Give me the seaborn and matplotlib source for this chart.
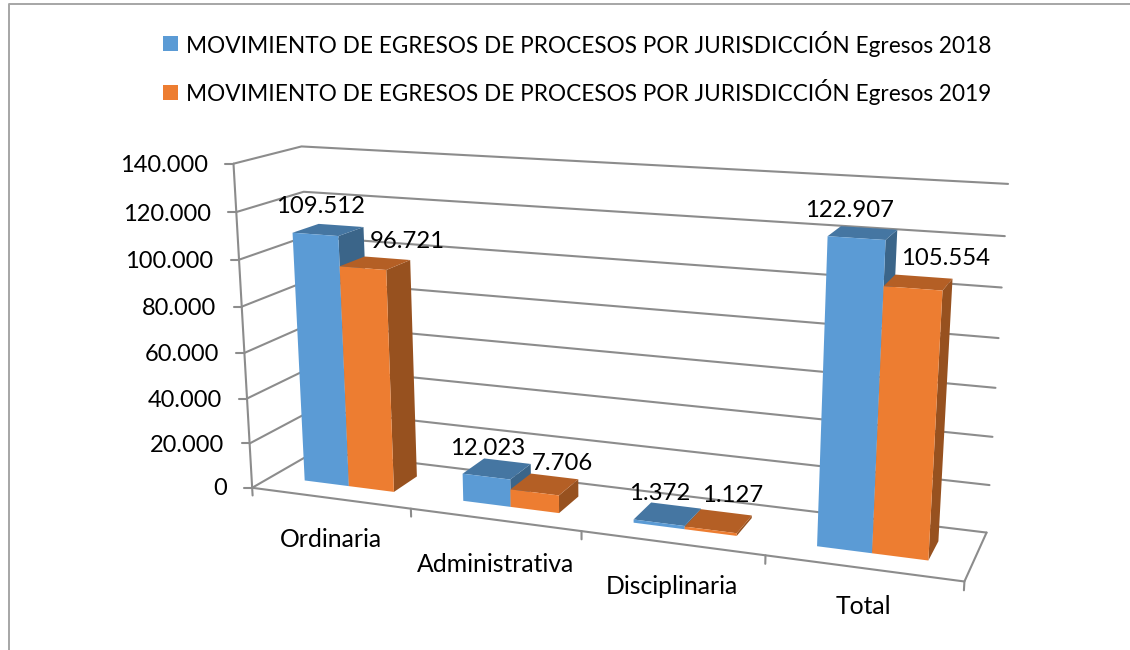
import numpy as np
import pandas as pd
import matplotlib
matplotlib.use("Agg")
import matplotlib.pyplot as plt
from matplotlib.patches import Rectangle
import seaborn as sns

categories = ["Ordinaria", "Administrativa", "Disciplinaria", "Total"]
egresos_2018 = [109512, 12023, 1372, 122907]
egresos_2019 = [96721, 7706, 1127, 105554]
series_names = ["MOVIMIENTO DE EGRESOS DE PROCESOS POR JURISDICCIÓN Egresos 2018",
                "MOVIMIENTO DE EGRESOS DE PROCESOS POR JURISDICCIÓN Egresos 2019"]
value_ticks = [0, 20000, 40000, 60000, 80000, 100000, 120000, 140000]


def miles(v):
    return f"{v:,}".replace(",", ".")


sns.set_theme(style="white")
plt.rcParams["font.family"] = ["Lato", "DejaVu Sans"]

front_cols = ["#5B9BD5", "#ED7D31"]
top_cols = ["#4576A2", "#B45F25"]
side_cols = ["#3B6589", "#97511F"]
line_col = "#8C8C8C"

vmax = value_ticks[-1]
ncat = len(categories)

# the 3d box: corners (category, value share, depth) and where they land on the page
box_world = [(0, 0, 0), (0, 0, 1), (ncat, 0, 1), (ncat, 0, 0),
             (0, 1, 0), (0, 1, 1), (ncat, 1, 1)]
box_page = [(253, 488), (315, 451), (987, 532), (964, 582),
            (233, 163), (302, 147), (1008, 184)]

rows, rhs = [], []
for (a, b, c), (u, v) in zip(box_world, box_page):
    rows.append([a, b, c, 1, 0, 0, 0, 0, -u * a, -u * b, -u * c])
    rhs.append(u)
    rows.append([0, 0, 0, 0, a, b, c, 1, -v * a, -v * b, -v * c])
    rhs.append(v)
sol = np.linalg.lstsq(np.array(rows, float), np.array(rhs, float), rcond=None)[0]
cam = np.append(sol, 1.0).reshape(3, 4)


def project(cat, value, depth):
    p = cam @ np.array([cat, value / vmax, depth, 1.0])
    return p[0] / p[2], p[1] / p[2]


fig = plt.figure(figsize=(11.3, 6.5), dpi=100)
ax = fig.add_axes([0, 0, 1, 1])
ax.set_xlim(0, 1130)
ax.set_ylim(650, 0)

# chart frame, only left and top fall inside the picture
ax.plot([9, 9, 1130], [650, 4, 4], color="#A6A6A6", lw=1.4)

# wall lines and ticks, one row per point
tick_len = 8
drop = -3500
grid = []
line_no = 0


def add_line(points):
    global line_no
    for px, py in points:
        grid.append({"line": line_no, "px": px, "py": py})
    line_no += 1


for v in value_ticks:
    add_line([project(ncat, v, 1), project(0, v, 1), project(0, v, 0)])
    px, py = project(0, v, 0)
    add_line([(px, py), (px - tick_len, py)])
add_line([project(0, 0, 0), project(0, vmax, 0)])
add_line([project(0, 0, 0), project(ncat, 0, 0), project(ncat, 0, 1)])
for i in range(ncat + 1):
    add_line([project(i, 0, 0), project(i, drop, 0)])
grid = pd.DataFrame(grid)
sns.lineplot(data=grid, x="px", y="py", units="line", estimator=None, sort=False,
             color=line_col, lw=1.5, ax=ax, legend=False)

# bars, gap width 150 and gap depth 150
bar_w = 1 / 3.5
z0, z1 = 0.3, 0.7
label_nudge = [[(-8, -23), (32, -22)], [(-9, -20), (18, -21)],
               [(-8, -21), (14, -25)], [(-13, -22), (27, -24)]]
for i in range(ncat):
    for s, vals in enumerate([egresos_2018, egresos_2019]):
        x0 = i + 0.75 * bar_w + s * bar_w
        x1 = x0 + bar_w
        h = vals[i]
        side = [project(x1, 0, z0), project(x1, 0, z1), project(x1, h, z1), project(x1, h, z0)]
        top = [project(x0, h, z0), project(x1, h, z0), project(x1, h, z1), project(x0, h, z1)]
        front = [project(x0, 0, z0), project(x1, 0, z0), project(x1, h, z0), project(x0, h, z0)]
        ax.fill(*zip(*side), color=side_cols[s], lw=0, zorder=3)
        ax.fill(*zip(*top), color=top_cols[s], lw=0, zorder=3)
        ax.fill(*zip(*front), color=front_cols[s], lw=0, zorder=3)
        cx, cy = project((x0 + x1) / 2, h, 0.5)
        dx, dy = label_nudge[i][s]
        ax.text(cx + dx, cy + dy, miles(h), ha="center", va="center",
                fontsize=17.2, color="black", zorder=5)

# value labels
for v in value_ticks:
    px, py = project(0, v, 0)
    ax.text(px - 25.5, py + (1 if v == 0 else 2), miles(v), ha="right", va="center",
            fontsize=17.0, color="black")

# category labels
cat_nudge = [41, 45, 44, 38]
for i, name in enumerate(categories):
    px, py = project(i + 0.5, 0, 0)
    ax.text(px + 0.5, py + cat_nudge[i], name, ha="center", va="center", fontsize=17.8, color="black")

# legend
for s, name in enumerate(series_names):
    y = 43.5 + s * 49
    ax.add_patch(Rectangle((163, y - 7.5), 15, 15, fc=front_cols[s], ec="none"))
    ax.text(186, y + 0.5 - s, name, ha="left", va="center", fontsize=16.26, color="black")

ax.set_xlabel("")
ax.set_ylabel("")
ax.axis("off")
fig.savefig("out.png", dpi=100)
